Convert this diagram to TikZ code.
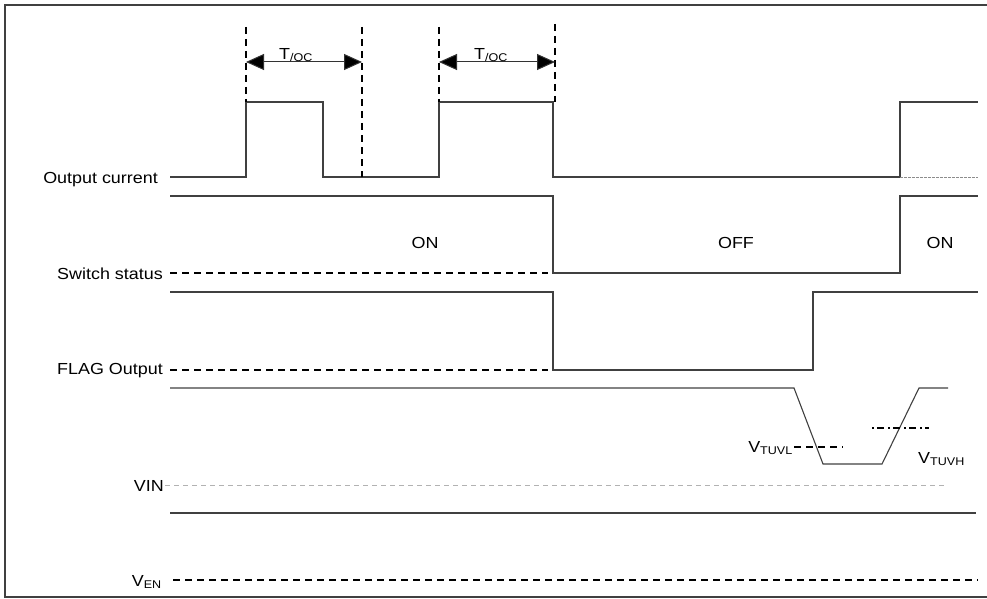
\documentclass[tikz,border=0pt]{standalone}
\usepackage{fontspec}
\setmainfont{Liberation Sans}
\newfontfamily\lblfont[FakeStretch=1.12]{Liberation Sans}
\usetikzlibrary{arrows.meta}
\begin{document}
\begin{tikzpicture}[x=1pt,y=-1pt,
  sig/.style={draw=black!75,line width=1.1pt},
  base/.style={draw=black,line width=1.8pt,dash pattern=on 7pt off 5pt},
  vmark/.style={draw=black,line width=1.8pt,dash pattern=on 7pt off 5pt},
  lbl/.style={font=\lblfont\fontsize{16}{19}\selectfont,inner sep=0pt,anchor=east},
  txt/.style={font=\lblfont\fontsize{16}{19}\selectfont,inner sep=0pt},
  dim/.style={draw=black!80,line width=1pt,{Triangle[length=18pt,width=16pt,fill=black]}-{Triangle[length=18pt,width=16pt,fill=black]}}]
\useasboundingbox (0,0) rectangle (987,599);
% frame
\draw[draw=black!75,line width=1.6pt] (987,5) -- (5,5) -- (5,597) -- (987,597);
% labels
\node[lbl] (loc) at (158,180) {Output current};
\node[lbl] (lsw) at (163,274) {Switch status};
\node[lbl] (lfl) at (163,371) {FLAG Output};
\node[lbl] (lvin) at (164,486) {VIN};
\node[lbl] (lven) at (162,582) {V\textsubscript{EN}};
\node[txt] (on1) at (425,243) {ON};
\node[txt] (off) at (736,243) {OFF};
\node[txt] (on2) at (940,243) {ON};
% output current
\draw[sig] (170,177) -- (246,177) -- (246,102) -- (323,102) -- (323,177) -- (439,177) -- (439,102) -- (553,102) -- (553,177) -- (900,177) -- (900,102) -- (978,102);
\draw[draw=black!45,line width=0.8pt,dash pattern=on 3pt off 1pt] (900,177) -- (978,177);
% vertical markers
\draw[vmark] (246,27) -- (246,102);
\draw[vmark] (362,27) -- (362,177);
\draw[vmark] (439,27) -- (439,102);
\draw[vmark] (555,24) -- (555,102);
\coordinate (a1) at (246,62);
\coordinate (b1) at (362,62);
\coordinate (a2) at (439,62);
\coordinate (b2) at (555,62);
\draw[dim] (a1) -- (b1);
\draw[dim] (a2) -- (b2);
\node[txt] (t1) at (296,55) {T\textsubscript{/OC}};
\node[txt] (t2) at (491,55) {T\textsubscript{/OC}};
% switch status
\draw[sig] (170,196) -- (553,196) -- (553,273) -- (900,273) -- (900,196) -- (978,196);
\draw[base] (170,273) -- (548,273);
% flag
\draw[sig] (170,292) -- (553,292) -- (553,370) -- (813,370) -- (813,292) -- (978,292);
\draw[base] (170,370) -- (548,370);
% VIN
\draw[sig] (170,388) -- (794,388) -- (823,464) -- (882,464) -- (919,388) -- (948,388);
\draw[draw=black!30,line width=0.8pt,dash pattern=on 5pt off 4pt] (165,485) -- (945,485);
\draw[draw=black,line width=1.3pt,dash pattern=on 7pt off 5pt] (794,447) -- (843,447);
\draw[draw=black,line width=1.3pt,dash pattern=on 2pt off 3pt on 7pt off 4pt] (872,428) -- (929,428);
\node[txt,anchor=east] (vl) at (793,448) {V\textsubscript{TUVL}};
\node[txt,anchor=west] (vh) at (918,459) {V\textsubscript{TUVH}};
% VEN
\draw[sig] (170,513) -- (976,513);
\draw[base] (173,580) -- (978,580);
\end{tikzpicture}
\end{document}
